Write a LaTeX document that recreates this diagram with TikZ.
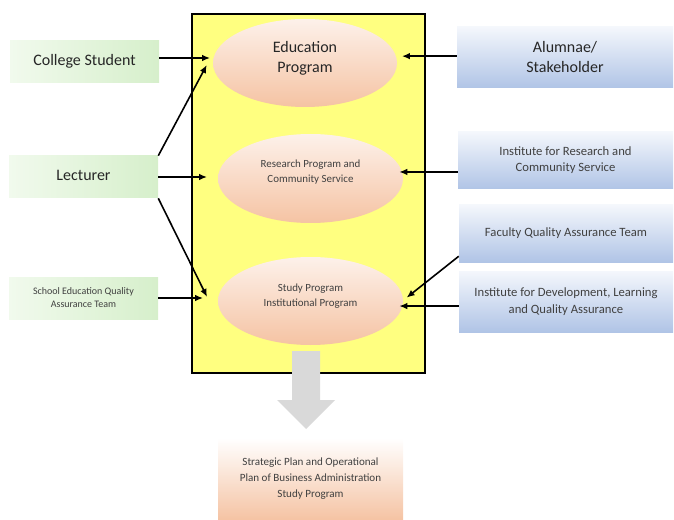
\documentclass[tikz,border=0pt]{standalone}
\usepackage{fontspec}
\setmainfont{Carlito}
\usetikzlibrary{arrows.meta,shapes.geometric}
\definecolor{yel}{HTML}{FFFF80}
\definecolor{peachtop}{HTML}{FDF1EA}
\definecolor{peachbot}{HTML}{F5C3A3}
\definecolor{bluetop}{HTML}{F4F7FC}
\definecolor{bluebot}{HTML}{B0C4E6}
\definecolor{greenl}{HTML}{F1FAED}
\definecolor{greenr}{HTML}{D6EFCB}
\definecolor{arrowgray}{HTML}{D9D9D9}
\definecolor{txtdark}{HTML}{262626}
\definecolor{txtgray}{HTML}{404040}
\tikzset{
  greenbox/.style={rectangle, left color=greenl, right color=greenr, draw=none,
    minimum width=111.75pt, minimum height=31.5pt, align=center, inner sep=0pt},
  bluebox/.style={rectangle, top color=bluetop, bottom color=bluebot, draw=none,
    align=center, inner sep=0pt},
  oval/.style={ellipse, top color=peachtop, bottom color=peachbot, draw=none,
    align=center, inner sep=0pt},
  conn/.style={draw=black, line width=1.2pt, -{Latex[length=6pt,width=5pt]}},
  bigtxt/.style={font=\fontsize{12pt}{15pt}\selectfont, text=txtdark},
  smalltxt/.style={font=\fontsize{8.2pt}{11.25pt}\selectfont, text=txtgray, align=center, inner sep=0pt},
}
\begin{document}
\begin{tikzpicture}[x=0.75pt,y=-0.75pt]
\useasboundingbox (0,0) rectangle (674,520);
% yellow frame
\node[rectangle, draw=black, line width=0.8pt, fill=yel, minimum width=174.75pt, minimum height=269.25pt, inner sep=0pt] (frame) at (308.5,193.5) {};
% ellipses
\node[oval, minimum width=138pt, minimum height=66pt] (ep) at (305,63) {};
\node[bigtxt, align=center, inner sep=0pt] (ept) at ([yshift=3.5pt]ep.center) {Education\\Program};
\node[oval, minimum width=138.75pt, minimum height=66.75pt] (rp) at (310.5,178.5) {};
\node[smalltxt] (rpt) at ([yshift=4.5pt]rp.center) {Research Program and\\Community Service};
\node[oval, minimum width=138.75pt, minimum height=66pt] (sp) at (310.5,301) {};
\node[smalltxt] (spt) at ([yshift=3.5pt]sp.center) {Study Program\\Institutional Program};
% gray arrow
\fill[arrowgray] (292,351) -- (320,351) -- (320,400) -- (335,400) -- (306,429) -- (277,400) -- (292,400) -- cycle;
% bottom box
\node[rectangle, top color=white, bottom color=peachbot, draw=none, minimum width=138.75pt, minimum height=61.5pt, align=center, inner sep=0pt, font=\fontsize{8.3pt}{12pt}\selectfont, text=txtgray] (plan) at (310.5,479) {Strategic Plan and Operational\\Plan of Business Administration\\Study Program};
% left boxes
\node[greenbox, bigtxt] (cs) at (84.5,62) {\raisebox{3pt}{College Student}};
\node[greenbox, bigtxt] (lec) at (83.5,177) {\raisebox{3pt}{Lecturer}};
\node[greenbox, font=\fontsize{7.5pt}{9.75pt}\selectfont, text=txtgray] (sch) at (83.5,298) {School Education Quality\\Assurance Team};
% right boxes
\node[bluebox, minimum width=162pt, minimum height=45.75pt, bigtxt] (alu) at (565,57.5) {Alumnae/\\Stakeholder};
\node[bluebox, minimum width=161.25pt, minimum height=42.75pt, font=\fontsize{9.5pt}{12pt}\selectfont, text=txtgray] (irc) at (565.5,160.5) {Institute for Research and\\Community Service};
\node[bluebox, minimum width=160.5pt, minimum height=42.75pt, font=\fontsize{9.5pt}{12pt}\selectfont, text=txtgray] (fqa) at (566,233.5) {Faculty Quality Assurance Team};
\node[bluebox, minimum width=160.5pt, minimum height=45.75pt, font=\fontsize{9.5pt}{12.75pt}\selectfont, text=txtgray] (idl) at (566,301.5) {Institute for Development, Learning\\and Quality Assurance};
% connectors left
\draw[conn, shorten >=2pt] ([yshift=3pt]cs.east) -- ([yshift=3pt]cs.east -| ep.west);
\draw[conn] (lec.north east) -- ([shift={(-4.5pt,-1.5pt)}]ep.west);
\draw[conn, shorten >=8pt] (lec.east) -- (lec.east -| rp.west);
\draw[conn] (lec.south east) -- ([shift={(-8pt,3pt)}]sp.west);
\draw[conn, shorten >=11pt] (sch.east) -- (sch.east -| sp.west);
% connectors right
\draw[conn, shorten >=3.5pt] ([yshift=1pt]alu.west) -- ([yshift=1pt]alu.west -| ep.east);
\draw[conn, shorten >=-3pt] ([yshift=-8.6pt]irc.west) -- ([yshift=-8.6pt]irc.west -| rp.east);
\draw[conn] ([yshift=4.5pt]fqa.south west) -- ([shift={(2.5pt,2.5pt)}]sp.east);
\draw[conn, shorten >=-3pt] ([yshift=-3.4pt]idl.west) -- ([yshift=-3.4pt]idl.west -| sp.east);
\end{tikzpicture}
\end{document}
